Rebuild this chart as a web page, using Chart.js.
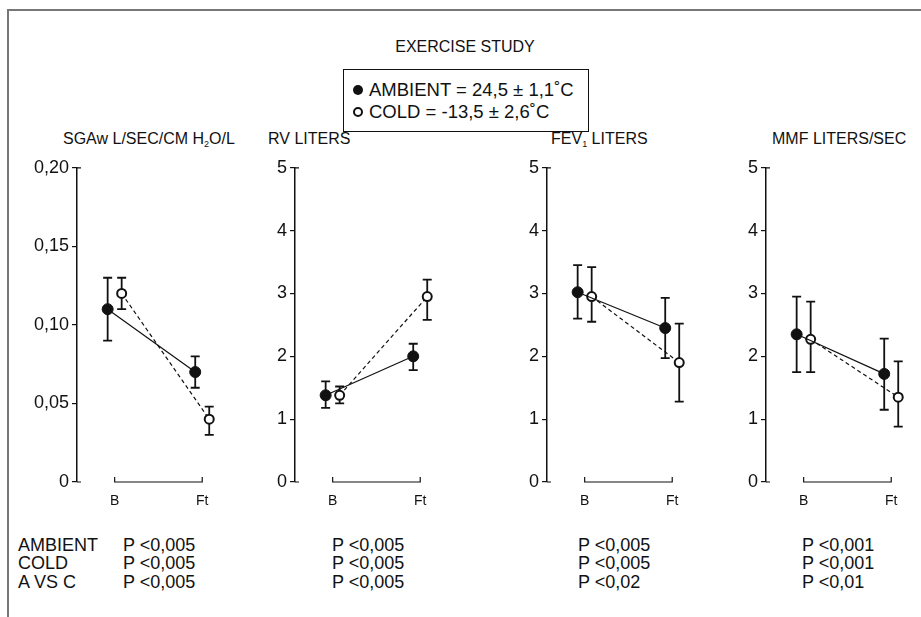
<!DOCTYPE html>
<html>
<head>
<meta charset="utf-8">
<script src="https://cdn.jsdelivr.net/npm/chart.js@4.4.0/dist/chart.umd.min.js"></script>
<style>
  body { margin: 0; width: 921px; height: 617px; position: relative; overflow: hidden; background: #fff;
         font-family: "Liberation Sans", Arial, sans-serif; color: #111; }
  .frame { position: absolute; left: 7px; top: 9px; width: 930px; height: 620px;
           border-left: 2px solid #777; border-top: 2px solid #777; }
  .t { position: absolute; z-index: 2; white-space: nowrap; font-size: 16px; line-height: 18px; }
  .t sub { font-size: 9px; vertical-align: -3px; line-height: 0; }
  .legend { position: absolute; left: 343px; top: 69px; width: 244px; height: 61px; border: 1px solid #111; }
  .legend .t { font-size: 18.5px; }
  .dot { position: absolute; width: 10px; height: 10px; border-radius: 50%; box-sizing: border-box; }
  .row { font-size: 18px; }
  canvas { position: absolute; z-index: 1; }
</style>
</head>
<body>
<div class="frame"></div>

<div class="t" style="left:0;width:930px;text-align:center;top:38px">EXERCISE STUDY</div>
<div class="legend">
  <div class="dot" style="left:9px;top:15px;background:#111"></div>
  <div class="t" style="left:25px;top:11px">AMBIENT = 24,5 ± 1,1˚C</div>
  <div class="dot" style="left:9px;top:37px;border:2px solid #111;background:#fff"></div>
  <div class="t" style="left:25px;top:33px">COLD = -13,5 ± 2,6˚C</div>
</div>

<div class="t" style="left:63px;top:130px">SGAw L/SEC/CM H<sub>2</sub>O/L</div>
<div class="t" style="left:268px;top:130px">RV LITERS</div>
<div class="t" style="left:551px;top:130px">FEV<sub>1</sub> LITERS</div>
<div class="t" style="left:772px;top:130px">MMF LITERS/SEC</div>

<canvas id="p0"></canvas>
<canvas id="p1"></canvas>
<canvas id="p2"></canvas>
<canvas id="p3"></canvas>

<div id="ptable"></div>

<script>
// measurement times on the x axis
const groups = ["B", "Ft"];

// SGAw  L/SEC/CM H2O/L
const sgawAmbient   = [0.11, 0.07];
const sgawAmbientLo = [0.09, 0.06];
const sgawAmbientHi = [0.13, 0.08];
const sgawCold      = [0.12, 0.04];
const sgawColdLo    = [0.11, 0.03];
const sgawColdHi    = [0.13, 0.048];

// RV liters
const rvAmbient   = [1.38, 2.0];
const rvAmbientLo = [1.18, 1.78];
const rvAmbientHi = [1.6, 2.2];
const rvCold      = [1.38, 2.95];
const rvColdLo    = [1.25, 2.58];
const rvColdHi    = [1.52, 3.22];

// FEV1 liters
const fevAmbient   = [3.02, 2.45];
const fevAmbientLo = [2.6, 1.97];
const fevAmbientHi = [3.45, 2.93];
const fevCold      = [2.95, 1.9];
const fevColdLo    = [2.55, 1.28];
const fevColdHi    = [3.42, 2.52];

// MMF liters/sec
const mmfAmbient   = [2.35, 1.72];
const mmfAmbientLo = [1.75, 1.15];
const mmfAmbientHi = [2.95, 2.28];
const mmfCold      = [2.27, 1.35];
const mmfColdLo    = [1.75, 0.88];
const mmfColdHi    = [2.87, 1.92];

// significance rows under each panel
const rowLabels = ["AMBIENT", "COLD", "A VS C"];
const pAmbient = ["P <0,005", "P <0,005", "P <0,005", "P <0,001"];
const pCold    = ["P <0,005", "P <0,005", "P <0,005", "P <0,001"];
const pAvsC    = ["P <0,005", "P <0,005", "P <0,02", "P <0,01"];

const FONT = "'Liberation Sans', Arial, sans-serif";
const SHIFT = 0.08; // ambient drawn a bit left, cold a bit right

const panels = [
  { id: "p0", axisX: 77,  yw: 52, max: 0.20, step: 0.05, dec: 2,
    amb: sgawAmbient, ambLo: sgawAmbientLo, ambHi: sgawAmbientHi, cold: sgawCold, coldLo: sgawColdLo, coldHi: sgawColdHi },
  { id: "p1", axisX: 295, yw: 24, max: 5, step: 1, dec: 0,
    amb: rvAmbient, ambLo: rvAmbientLo, ambHi: rvAmbientHi, cold: rvCold, coldLo: rvColdLo, coldHi: rvColdHi },
  { id: "p2", axisX: 547, yw: 24, max: 5, step: 1, dec: 0,
    amb: fevAmbient, ambLo: fevAmbientLo, ambHi: fevAmbientHi, cold: fevCold, coldLo: fevColdLo, coldHi: fevColdHi },
  { id: "p3", axisX: 766, yw: 24, max: 5, step: 1, dec: 0,
    amb: mmfAmbient, ambLo: mmfAmbientLo, ambHi: mmfAmbientHi, cold: mmfCold, coldLo: mmfColdLo, coldHi: mmfColdHi },
];

const pts = (vals, lo, hi, dx) => vals.map((v, i) => ({ x: i + dx, y: v, lo: lo[i], hi: hi[i] }));

// vertical error bars with caps, under the markers
const errorBars = {
  id: "errorBars",
  beforeDatasetsDraw(chart) {
    const { ctx, scales: { x, y } } = chart;
    ctx.save();
    ctx.strokeStyle = "#111";
    ctx.lineWidth = 1.8;
    chart.data.datasets.forEach(ds => {
      ds.data.forEach(p => {
        const px = x.getPixelForValue(p.x);
        const top = y.getPixelForValue(p.hi), bot = y.getPixelForValue(p.lo);
        ctx.beginPath();
        ctx.moveTo(px, top); ctx.lineTo(px, bot);
        ctx.moveTo(px - 4.5, top); ctx.lineTo(px + 4.5, top);
        ctx.moveTo(px - 4.5, bot); ctx.lineTo(px + 4.5, bot);
        ctx.stroke();
      });
    });
    ctx.restore();
  }
};

// B–Ft bracket along the bottom and small caps at the axis ends
const axisMarks = {
  id: "axisMarks",
  afterDraw(chart) {
    const { ctx, chartArea: a, scales: { x } } = chart;
    const b = x.getPixelForValue(0), f = x.getPixelForValue(1);
    ctx.save();
    ctx.strokeStyle = "#111";
    ctx.lineWidth = 1.2;
    ctx.beginPath();
    ctx.moveTo(b, a.bottom - 5); ctx.lineTo(b, a.bottom); ctx.lineTo(f, a.bottom); ctx.lineTo(f, a.bottom - 5);
    ctx.moveTo(a.left, a.top); ctx.lineTo(a.left + 4, a.top);
    ctx.moveTo(a.left, a.bottom); ctx.lineTo(a.left + 4, a.bottom);
    ctx.stroke();
    ctx.restore();
  }
};

panels.forEach(p => {
  const cv = document.getElementById(p.id);
  cv.width = p.yw + 158; cv.height = 358;
  cv.style.left = (p.axisX - p.yw) + "px";
  cv.style.top = "154px";

  new Chart(cv.getContext("2d"), {
    type: "scatter",
    data: {
      datasets: [
        {
          label: "AMBIENT",
          data: pts(p.amb, p.ambLo, p.ambHi, -SHIFT),
          showLine: true,
          borderColor: "#111",
          borderWidth: 1.2,
          pointRadius: 5.5,
          pointBackgroundColor: "#111",
          pointBorderColor: "#111",
          pointBorderWidth: 1,
        },
        {
          label: "COLD",
          data: pts(p.cold, p.coldLo, p.coldHi, SHIFT),
          showLine: true,
          borderColor: "#111",
          borderWidth: 1.2,
          borderDash: [4, 3],
          pointRadius: 4.5,
          pointBackgroundColor: "#fff",
          pointBorderColor: "#111",
          pointBorderWidth: 2,
        },
      ],
    },
    options: {
      responsive: false,
      animation: false,
      layout: { padding: { top: 10, left: 0, right: 0, bottom: 0 } },
      plugins: { legend: { display: false }, tooltip: { enabled: false } },
      scales: {
        x: {
          type: "linear",
          min: -0.43,
          max: 1.3,
          grid: { display: false },
          border: { display: false },
          afterBuildTicks: s => { s.ticks = groups.map((g, i) => ({ value: i })); },
          afterFit: s => { s.height = 30; },
          ticks: {
            padding: 3,
            color: "#111",
            font: { family: FONT, size: 14 },
            callback: (v, i) => groups[i],
          },
        },
        y: {
          min: 0,
          max: p.max,
          afterFit: s => { s.width = p.yw; },
          grid: { drawOnChartArea: false, tickLength: 5, color: "#111", lineWidth: 1.2 },
          border: { display: true, color: "#111", width: 1.5 },
          ticks: {
            stepSize: p.step,
            padding: 3,
            color: "#111",
            font: { family: FONT, size: 18 },
            callback: v => v === 0 ? "0" : v.toFixed(p.dec).replace(".", ","),
          },
        },
      },
    },
    plugins: [errorBars, axisMarks],
  });
});

// p-value table
const table = document.getElementById("ptable");
const colX = [123, 332, 578, 802];
const rowY = [536, 554, 573];
[pAmbient, pCold, pAvsC].forEach((row, r) => {
  const lab = document.createElement("div");
  lab.className = "t row";
  lab.style.left = "18px"; lab.style.top = rowY[r] + "px";
  lab.textContent = rowLabels[r];
  table.appendChild(lab);
  row.forEach((txt, c) => {
    const d = document.createElement("div");
    d.className = "t row";
    d.style.left = colX[c] + "px"; d.style.top = rowY[r] + "px";
    d.textContent = txt;
    table.appendChild(d);
  });
});
</script>
</body>
</html>
